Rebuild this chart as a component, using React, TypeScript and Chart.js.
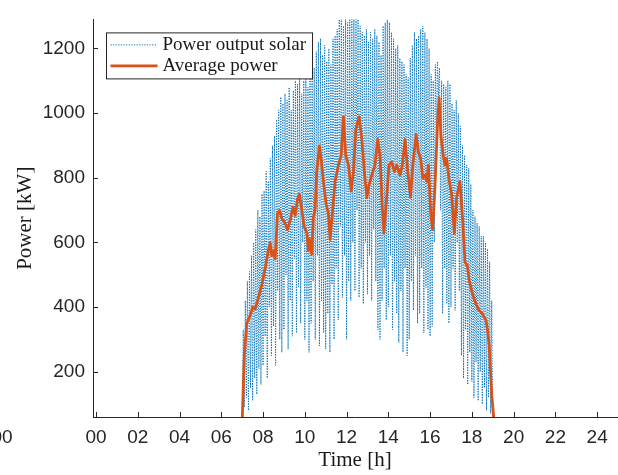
import React, { useEffect, useRef } from "react";
import { Chart, registerables } from "chart.js";

Chart.register(...registerables);

// ---- data ----
// Solar power output, sampled every 0.05 h starting at 07:00 (20 samples per hour)
const SOLAR_START_H = 7.0;
const SOLAR_STEP_H = 0.05;
const solarPower: number[] = [
  // 07h
  40, 330, 90, 420, 120, 480, 80, 510, 150, 560, 110, 600, 180, 640, 130, 700, 210, 680, 160, 750,
  // 08h
  220, 760, 310, 820, 180, 790, 400, 860, 250, 900, 340, 930, 220, 980, 450, 1010, 300, 1050, 260, 1030,
  // 09h
  330, 1060, 500, 1040, 270, 1080, 420, 1010, 310, 1070, 550, 1100, 320, 1090, 460, 1110, 350, 1060, 600, 1100,
  // 10h
  300, 1120, 420, 1080, 260, 1150, 350, 1170, 480, 1140, 300, 1190, 560, 1220, 280, 1230, 420, 1180, 320, 1210,
  // 11h
  270, 1160, 380, 1200, 260, 1150, 470, 1230, 300, 1240, 520, 1260, 360, 1290, 650, 1300, 430, 1270, 560, 1300,
  // 12h
  300, 1280, 480, 1300, 420, 1290, 600, 1300, 450, 1310, 700, 1290, 430, 1270, 520, 1250, 410, 1240, 600, 1260,
  // 13h
  440, 1220, 560, 1250, 420, 1230, 640, 1260, 480, 1240, 330, 1220, 300, 1180, 420, 1270, 520, 1280, 360, 1290,
  // 14h
  400, 1280, 560, 1250, 330, 1230, 480, 1200, 380, 1210, 290, 1170, 450, 1160, 260, 1150, 520, 1120, 250, 1110,
  // 15h
  300, 1170, 480, 1210, 390, 1250, 560, 1230, 350, 1240, 380, 1260, 520, 1270, 320, 1250, 460, 1230, 330, 1200,
  // 16h
  310, 1120, 340, 1100, 600, 1150, 900, 1160, 1050, 1140, 700, 1100, 380, 1090, 520, 1080, 410, 1100, 350, 1090,
  // 17h
  400, 1030, 520, 1010, 390, 1040, 600, 1000, 450, 960, 250, 900, 180, 870, 330, 840, 160, 830, 260, 780,
  // 18h
  170, 700, 120, 680, 230, 660, 110, 650, 200, 620, 100, 620, 150, 600, 80, 580, 120, 540, 70, 420,
  // 19h
  0,
];

// Average power (time in hours, power in kW)
const avgTime: number[] = [
  6.98, 7.1, 7.22, 7.38, 7.51, 7.62, 7.78, 7.94, 8.1, 8.26, 8.34, 8.42, 8.5, 8.58, 8.69, 8.79,
  8.9, 9.06, 9.17, 9.3, 9.43, 9.54, 9.65, 9.74, 9.86, 9.97, 10.1, 10.17, 10.25, 10.33, 10.41,
  10.49, 10.57, 10.7, 10.78, 10.89, 11.02, 11.13, 11.21, 11.32, 11.45, 11.61, 11.74, 11.85,
  11.96, 12.09, 12.22, 12.33, 12.44, 12.6, 12.73, 12.85, 12.97, 13.08, 13.21, 13.36, 13.49,
  13.6, 13.71, 13.79, 13.92, 14.03, 14.16, 14.29, 14.4, 14.56, 14.67, 14.8, 14.93, 15.06,
  15.17, 15.33, 15.44, 15.55, 15.65, 15.76, 15.84, 15.92, 16.03, 16.12, 16.23, 16.35, 16.43,
  16.52, 16.63, 16.71, 16.79, 16.92, 17.03, 17.16, 17.27, 17.43, 17.56, 17.67, 17.78, 17.88,
  18.04, 18.2, 18.35, 18.47, 18.58, 18.67, 18.75, 18.83, 18.95, 19.07, 19.1,
];
const avgPower: number[] = [
  0, 250, 350, 374, 400, 394, 430, 469, 519, 579, 599, 559, 574, 549, 689, 699,
  674, 659, 639, 669, 709, 684, 734, 749, 699, 649, 629, 574, 609, 564, 679,
  699, 819, 899, 859, 789, 719, 689, 609, 689, 789, 839, 869, 989,
  869, 839, 759, 819, 949, 989, 919, 819, 739, 779, 809, 839, 919,
  869, 709, 629, 739, 839, 849, 819, 839, 809, 839, 919, 819, 740,
  839, 934, 879, 859, 799, 809, 789, 839, 689, 639, 769, 959, 1048,
  929, 869, 839, 859, 789, 749, 629, 739, 789, 669, 539, 529, 479,
  439, 409, 389, 383, 369, 360, 330, 280, 130, 40, 0,
];

const xTickValues: number[] = [0, 2, 4, 6, 8, 10, 12, 14, 16, 18, 20, 22, 24];
const yTickValues: number[] = [200, 400, 600, 800, 1000, 1200];

const SERIES_SOLAR = "Power output solar";
const SERIES_AVG = "Average power";

// ---- styles ----
const BLUE = "#0072BD";
const ORANGE = "#D95319";
const AXIS = "#262626";
const TICK_FONT = { family: "'Liberation Sans', Arial, sans-serif", size: 19 };
const SERIF = "'Liberation Serif', 'Times New Roman', serif";
const BLUE_DASH = [1.2, 1.4];

const fmtHour = (v: number) => String(Math.round(v)).padStart(2, "0");

const matlabPlugin = {
  id: "matlabExtras",
  afterDraw(chart: any) {
    const { ctx, chartArea: a, scales } = chart;
    const xs = scales.x;
    const ys = scales.y;
    ctx.save();
    // inward tick marks
    ctx.strokeStyle = AXIS;
    ctx.lineWidth = 1;
    ctx.beginPath();
    xTickValues.forEach((v) => {
      const px = Math.round(xs.getPixelForValue(v)) + 0.5;
      ctx.moveTo(px, a.bottom);
      ctx.lineTo(px, a.bottom - 5);
    });
    yTickValues.forEach((v) => {
      const py = Math.round(ys.getPixelForValue(v)) + 0.5;
      ctx.moveTo(a.left, py);
      ctx.lineTo(a.left + 5, py);
    });
    ctx.stroke();

    // stray leading label at the far left, as in the original figure
    ctx.font = `${TICK_FONT.size}px ${TICK_FONT.family}`;
    ctx.fillStyle = AXIS;
    ctx.textAlign = "center";
    ctx.textBaseline = "middle";
    ctx.fillText(fmtHour(0), xs.getPixelForValue(-4.5), xs.top + 9 + (TICK_FONT.size * 1.2) / 2);

    // legend box
    const bx = a.left + 13.5;
    const by = a.top + 13.5;
    const bw = 206;
    const bh = 46;
    ctx.fillStyle = "#ffffff";
    ctx.fillRect(bx, by, bw, bh);
    ctx.strokeStyle = AXIS;
    ctx.lineWidth = 1;
    ctx.strokeRect(bx, by, bw, bh);

    const rows = [
      { label: SERIES_SOLAR, color: BLUE, width: 1, dash: BLUE_DASH, y: by + 12 },
      { label: SERIES_AVG, color: ORANGE, width: 2.8, dash: [], y: by + 33 },
    ];
    rows.forEach((r) => {
      ctx.beginPath();
      ctx.setLineDash(r.dash);
      ctx.strokeStyle = r.color;
      ctx.lineWidth = r.width;
      ctx.moveTo(bx + 4, r.y);
      ctx.lineTo(bx + 51, r.y);
      ctx.stroke();
      ctx.setLineDash([]);
      ctx.font = `19px ${SERIF}`;
      ctx.fillStyle = "#1a1a1a";
      ctx.textAlign = "left";
      ctx.textBaseline = "alphabetic";
      ctx.fillText(r.label, bx + 56, r.y + 5);
    });
    ctx.restore();
  },
};

export default function App() {
  const canvasRef = useRef<HTMLCanvasElement | null>(null);

  useEffect(() => {
    const canvas = canvasRef.current;
    if (!canvas) return;
    const solarData = solarPower.map((v, i) => ({ x: SOLAR_START_H + i * SOLAR_STEP_H, y: v }));
    const avgData = avgTime.map((t, i) => ({ x: t, y: avgPower[i] }));

    const chart = new Chart(canvas, {
      type: "line",
      data: {
        datasets: [
          {
            label: SERIES_SOLAR,
            data: solarData,
            borderColor: BLUE,
            borderWidth: 1,
            borderDash: BLUE_DASH,
            pointRadius: 0,
            tension: 0,
            fill: false,
            order: 2,
          },
          {
            label: SERIES_AVG,
            data: avgData,
            borderColor: ORANGE,
            borderWidth: 2.8,
            borderJoinStyle: "round",
            pointRadius: 0,
            tension: 0,
            fill: false,
            order: 1,
          },
        ],
      },
      options: {
        animation: false,
        responsive: false,
        devicePixelRatio: 1,
        parsing: false,
        layout: { padding: { top: 6, right: 1, left: 0, bottom: 0 } },
        plugins: {
          legend: { display: false },
          tooltip: { enabled: false },
        },
        scales: {
          x: {
            type: "linear",
            min: -0.144,
            max: 24.95,
            afterBuildTicks: (scale: any) => {
              scale.ticks = xTickValues.map((v) => ({ value: v }));
            },
            afterFit: (scale: any) => {
              scale.height = 58;
            },
            grid: { display: false, drawTicks: false },
            border: { display: true, color: AXIS, width: 1 },
            ticks: {
              color: AXIS,
              font: TICK_FONT,
              padding: 9,
              maxRotation: 0,
              autoSkip: false,
              callback: (v: any) => fmtHour(Number(v)),
            },
            title: {
              display: true,
              text: "Time [h]",
              color: "#1a1a1a",
              font: { family: SERIF, size: 21 },
              padding: { top: 0, bottom: 2 },
            },
          },
          y: {
            type: "linear",
            min: 60,
            max: 1290,
            afterBuildTicks: (scale: any) => {
              scale.ticks = yTickValues.map((v) => ({ value: v }));
            },
            afterFit: (scale: any) => {
              scale.width = 93;
            },
            grid: { display: false, drawTicks: false },
            border: { display: true, color: AXIS, width: 1 },
            ticks: {
              color: AXIS,
              font: TICK_FONT,
              padding: 8,
              autoSkip: false,
              callback: (v: any) => String(v),
            },
            title: {
              display: true,
              text: "Power [kW]",
              color: "#1a1a1a",
              font: { family: SERIF, size: 21 },
              padding: { top: 13, bottom: 0 },
            },
          },
        },
      },
      plugins: [matlabPlugin],
    } as any);

    return () => chart.destroy();
  }, []);

  return (
    <div style={{ position: "fixed", left: 0, top: 0, width: 618, height: 475, background: "#fff" }}>
      <canvas ref={canvasRef} width={618} height={475} style={{ display: "block", width: 618, height: 475 }} />
    </div>
  );
}
